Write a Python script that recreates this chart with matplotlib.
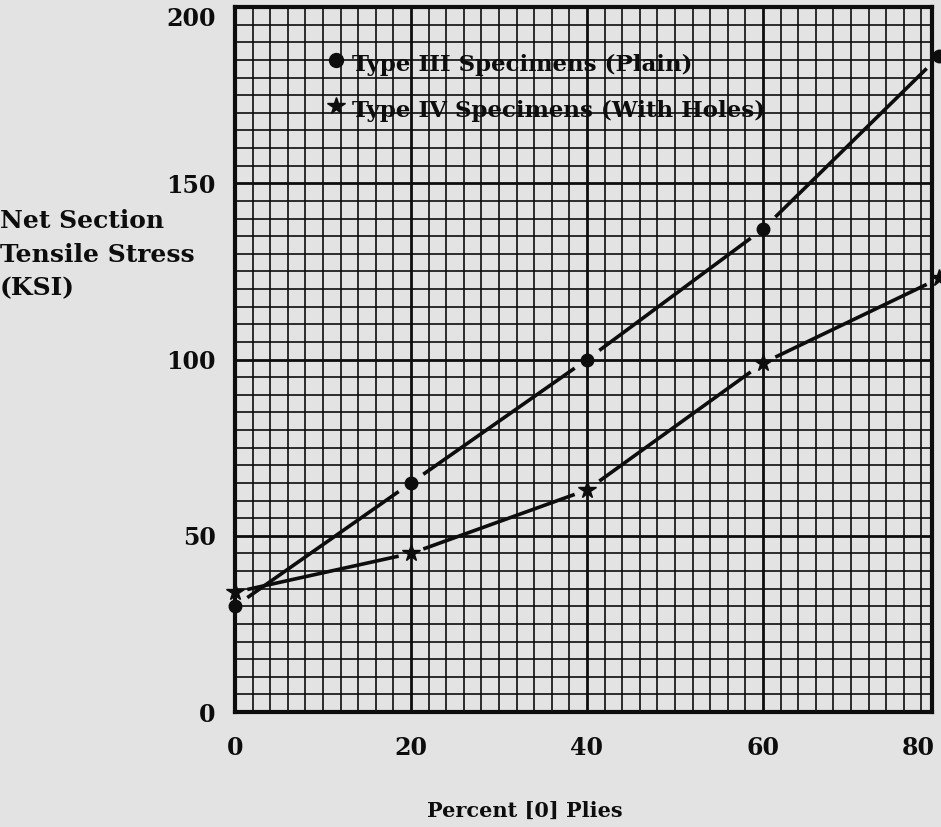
import matplotlib

matplotlib.use("Agg")
import matplotlib.pyplot as plt
import numpy as np

# Percent [0] plies vs net section tensile stress (KSI)
percent_plies = [0, 20, 40, 60, 80]
type3_plain = [30, 65, 100, 137, 186]
type4_holes = [34, 45, 63, 99, 123]

x_ticks = [0, 20, 40, 60, 80]
y_ticks = [0, 50, 100, 150, 200]

legend_labels = ["Type III Specimens (Plain)", "Type IV Specimens (With Holes)"]

PAPER = "#e3e3e3"
INK = "#0d0d0d"
FONT = "DejaVu Serif"


def broken_line(ax, xs, ys, gap=0.07):
    # hand-drawn look: each segment stops short of the markers
    xs = np.asarray(xs, float)
    ys = np.asarray(ys, float)
    for i in range(len(xs) - 1):
        dx = xs[i + 1] - xs[i]
        dy = ys[i + 1] - ys[i]
        ax.plot([xs[i] + gap * dx, xs[i + 1] - gap * dx],
                [ys[i] + gap * dy, ys[i + 1] - gap * dy],
                color=INK, lw=2.6, solid_capstyle="butt", zorder=4,
                clip_on=False)


def main() -> None:
    fig = plt.figure(figsize=(9.41, 8.27), dpi=100, facecolor=PAPER)
    ax = fig.add_axes([0.2497, 0.139, 0.7407, 0.8525])
    ax.set_facecolor(PAPER)

    # the paper ends just short of the 80 line
    ax.set_xlim(0, 79.2)
    ax.set_ylim(0, 200)

    # graph paper grid
    for gx in np.arange(2, 79, 2):
        major = gx % 20 == 0
        ax.axvline(gx, color=INK, lw=2.0 if major else 1.2, zorder=1)
    for gy in np.arange(5, 200, 5):
        major = gy % 50 == 0
        ax.axhline(gy, color=INK, lw=2.0 if major else 1.2, zorder=1)

    for s in ax.spines.values():
        s.set_linewidth(3)
        s.set_color(INK)

    broken_line(ax, percent_plies, type3_plain)
    broken_line(ax, percent_plies, type4_holes)
    ax.plot(percent_plies, type3_plain, "o", color=INK, ms=9, zorder=5,
            clip_on=False)
    ax.plot(percent_plies, type4_holes, "*", color=INK, ms=13, zorder=5,
            clip_on=False)

    # legend drawn on the paper, the way it was typed on
    ax.plot([11.5], [185], "o", color=INK, ms=10, zorder=5)
    ax.plot([11.5], [172], "*", color=INK, ms=13, zorder=5)
    for ly, label in zip([185, 172], legend_labels):
        ax.text(13.3, ly - 1.5, label, fontsize=16.5, family=FONT,
                fontweight="bold", color=INK, va="center", ha="left",
                zorder=3)

    ax.set_xticks([t for t in x_ticks if t < 79.2])
    ax.set_yticks(y_ticks)
    ax.set_xticklabels([str(t) for t in x_ticks if t < 79.2])
    ax.set_yticklabels([str(t) for t in y_ticks])
    ax.tick_params(length=0, pad=14, labelsize=17, colors=INK)
    ax.tick_params(axis="x", pad=17)
    for lab in ax.get_xticklabels() + ax.get_yticklabels():
        lab.set_family(FONT)
        lab.set_fontweight("bold")
    # top label hangs below the page edge
    ax.get_yticklabels()[-1].set_verticalalignment("top")
    # last x label sits at the cut edge of the paper
    ax.annotate(str(x_ticks[-1]), xy=(x_ticks[-1], 0),
                xycoords=("data", "axes fraction"), xytext=(-3, -17),
                textcoords="offset points", ha="right", va="top",
                fontsize=17, family=FONT, fontweight="bold", color=INK,
                annotation_clip=False)

    fig.text(0.0, 0.692, "Net Section\nTensile Stress\n(KSI)", fontsize=18,
             family=FONT, fontweight="bold", color=INK, ha="left",
             va="center", linespacing=1.5)
    fig.text(0.558, 0.008, "Percent [0] Plies", fontsize=15, family=FONT,
             fontweight="bold", color=INK, ha="center", va="bottom")

    fig.savefig("out.png", dpi=100, facecolor=PAPER)
    plt.close(fig)


if __name__ == "__main__":
    main()
